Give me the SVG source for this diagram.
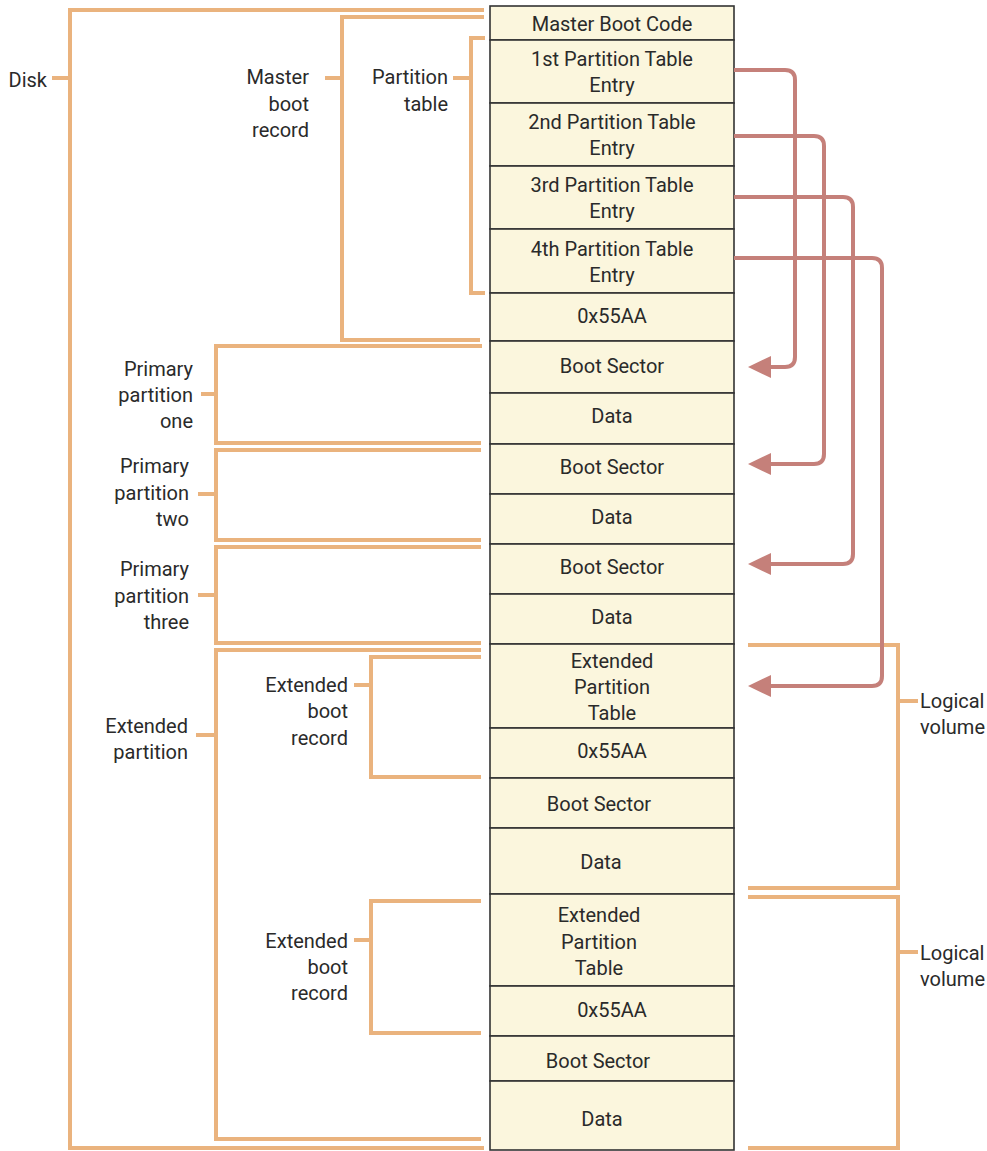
<svg xmlns="http://www.w3.org/2000/svg" width="987" height="1151" viewBox="0 0 987 1151">
<defs>
<style>
.cell{fill:#FBF6DD;stroke:#333;stroke-width:1.6}
.t{font-family:"Liberation Sans Narrow","Roboto","Liberation Sans",sans-serif;font-size:20px;fill:#2a2a2a}
.c{text-anchor:middle}
.r{text-anchor:end}
.br{fill:none;stroke:#EAB37E;stroke-width:4;stroke-linejoin:miter}
.ar{fill:none;stroke:#C5807A;stroke-width:4}
.ah{fill:#C5807A}
</style>
</defs>
<rect width="987" height="1151" fill="#fff"/>
<g id="column">
<g id="n-mbc"><rect class="cell" x="490" y="6" width="244" height="34"/><text class="t c" x="612" y="31">Master Boot Code</text></g>
<g id="n-pte1"><rect class="cell" x="490" y="40" width="244" height="63"/><text class="t c" x="612" y="66">1st Partition Table</text><text class="t c" x="612" y="92">Entry</text></g>
<g id="n-pte2"><rect class="cell" x="490" y="103" width="244" height="63"/><text class="t c" x="612" y="129">2nd Partition Table</text><text class="t c" x="612" y="155">Entry</text></g>
<g id="n-pte3"><rect class="cell" x="490" y="166" width="244" height="63"/><text class="t c" x="612" y="192">3rd Partition Table</text><text class="t c" x="612" y="218">Entry</text></g>
<g id="n-pte4"><rect class="cell" x="490" y="229" width="244" height="64"/><text class="t c" x="612" y="256">4th Partition Table</text><text class="t c" x="612" y="282">Entry</text></g>
<g id="n-sig0"><rect class="cell" x="490" y="293" width="244" height="48"/><text class="t c" x="612" y="323">0x55AA</text></g>
<g id="n-bs1"><rect class="cell" x="490" y="341" width="244" height="52"/><text class="t c" x="612" y="373">Boot Sector</text></g>
<g id="n-d1"><rect class="cell" x="490" y="393" width="244" height="51"/><text class="t c" x="612" y="423">Data</text></g>
<g id="n-bs2"><rect class="cell" x="490" y="444" width="244" height="50"/><text class="t c" x="612" y="474">Boot Sector</text></g>
<g id="n-d2"><rect class="cell" x="490" y="494" width="244" height="50"/><text class="t c" x="612" y="524">Data</text></g>
<g id="n-bs3"><rect class="cell" x="490" y="544" width="244" height="50"/><text class="t c" x="612" y="574">Boot Sector</text></g>
<g id="n-d3"><rect class="cell" x="490" y="594" width="244" height="50"/><text class="t c" x="612" y="624">Data</text></g>
<g id="n-ept1"><rect class="cell" x="490" y="644" width="244" height="84"/><text class="t c" x="612" y="668">Extended</text><text class="t c" x="612" y="694">Partition</text><text class="t c" x="612" y="720">Table</text></g>
<g id="n-sig1"><rect class="cell" x="490" y="728" width="244" height="50"/><text class="t c" x="612" y="758">0x55AA</text></g>
<g id="n-bs4"><rect class="cell" x="490" y="778" width="244" height="50"/><text class="t c" x="599" y="811">Boot Sector</text></g>
<g id="n-d4"><rect class="cell" x="490" y="828" width="244" height="66"/><text class="t c" x="601" y="869">Data</text></g>
<g id="n-ept2"><rect class="cell" x="490" y="894" width="244" height="92"/><text class="t c" x="599" y="922">Extended</text><text class="t c" x="599" y="949">Partition</text><text class="t c" x="599" y="975">Table</text></g>
<g id="n-sig2"><rect class="cell" x="490" y="986" width="244" height="50"/><text class="t c" x="612" y="1017">0x55AA</text></g>
<g id="n-bs5"><rect class="cell" x="490" y="1036" width="244" height="45"/><text class="t c" x="598" y="1068">Boot Sector</text></g>
<g id="n-d5"><rect class="cell" x="490" y="1081" width="244" height="69"/><text class="t c" x="602" y="1126">Data</text></g>
</g>
<g id="brackets">
<g id="b-disk"><polyline class="br" points="484,10 70,10 70,1148 484,1148"/><line class="br" x1="52" y1="78" x2="70" y2="78"/><text class="t r" x="47" y="87">Disk</text></g>
<g id="b-mbr"><polyline class="br" points="484,17 342,17 342,340 480,340"/><line class="br" x1="325" y1="78" x2="342" y2="78"/><text class="t r" x="309" y="84">Master</text><text class="t r" x="309" y="111">boot</text><text class="t r" x="309" y="137">record</text></g>
<g id="b-pt"><polyline class="br" points="485,38 471,38 471,293 485,293"/><line class="br" x1="453" y1="78" x2="471" y2="78"/><text class="t r" x="448" y="84">Partition</text><text class="t r" x="448" y="111">table</text></g>
<g id="b-pp1"><polyline class="br" points="482,346 216,346 216,443 481,443"/><line class="br" x1="201" y1="394" x2="216" y2="394"/><text class="t r" x="193" y="376">Primary</text><text class="t r" x="193" y="402">partition</text><text class="t r" x="193" y="428">one</text></g>
<g id="b-pp2"><polyline class="br" points="481,450 216,450 216,540 481,540"/><line class="br" x1="198" y1="494" x2="216" y2="494"/><text class="t r" x="189" y="473">Primary</text><text class="t r" x="189" y="500">partition</text><text class="t r" x="189" y="526">two</text></g>
<g id="b-pp3"><polyline class="br" points="481,547 216,547 216,643 481,643"/><line class="br" x1="198" y1="595" x2="216" y2="595"/><text class="t r" x="189" y="576">Primary</text><text class="t r" x="189" y="603">partition</text><text class="t r" x="189" y="629">three</text></g>
<g id="b-ext"><polyline class="br" points="481,650 216,650 216,1139 481,1139"/><line class="br" x1="196" y1="735" x2="216" y2="735"/><text class="t r" x="188" y="733">Extended</text><text class="t r" x="188" y="759">partition</text></g>
<g id="b-ebr1"><polyline class="br" points="481,657 371,657 371,777 481,777"/><line class="br" x1="354" y1="685" x2="371" y2="685"/><text class="t r" x="348" y="692">Extended</text><text class="t r" x="348" y="718">boot</text><text class="t r" x="348" y="745">record</text></g>
<g id="b-ebr2"><polyline class="br" points="481,901 371,901 371,1033 481,1033"/><line class="br" x1="354" y1="940" x2="371" y2="940"/><text class="t r" x="348" y="948">Extended</text><text class="t r" x="348" y="974">boot</text><text class="t r" x="348" y="1000">record</text></g>
<g id="b-lv1"><polyline class="br" points="748,645 898,645 898,888 748,888"/><line class="br" x1="898" y1="701" x2="918" y2="701"/><text class="t" x="920" y="708">Logical</text><text class="t" x="920" y="734">volume</text></g>
<g id="b-lv2"><polyline class="br" points="748,897 898,897 898,1148 748,1148"/><line class="br" x1="898" y1="952" x2="918" y2="952"/><text class="t" x="920" y="960">Logical</text><text class="t" x="920" y="986">volume</text></g>
</g>
<g id="connectors">
<path class="ar" d="M734,70 H785 Q795,70 795,80 V357 Q795,367 785,367 H768"/>
<polygon class="ah" points="748,367 771,356 771,378"/>
<path class="ar" d="M734,136 H814 Q824,136 824,146 V454 Q824,464 814,464 H768"/>
<polygon class="ah" points="748,464 771,453 771,475"/>
<path class="ar" d="M734,197 H843 Q853,197 853,207 V554 Q853,564 843,564 H768"/>
<polygon class="ah" points="748,564 771,553 771,575"/>
<path class="ar" d="M734,258 H872 Q882,258 882,268 V676 Q882,686 872,686 H768"/>
<polygon class="ah" points="748,686 771,675 771,697"/>
</g>
</svg>
